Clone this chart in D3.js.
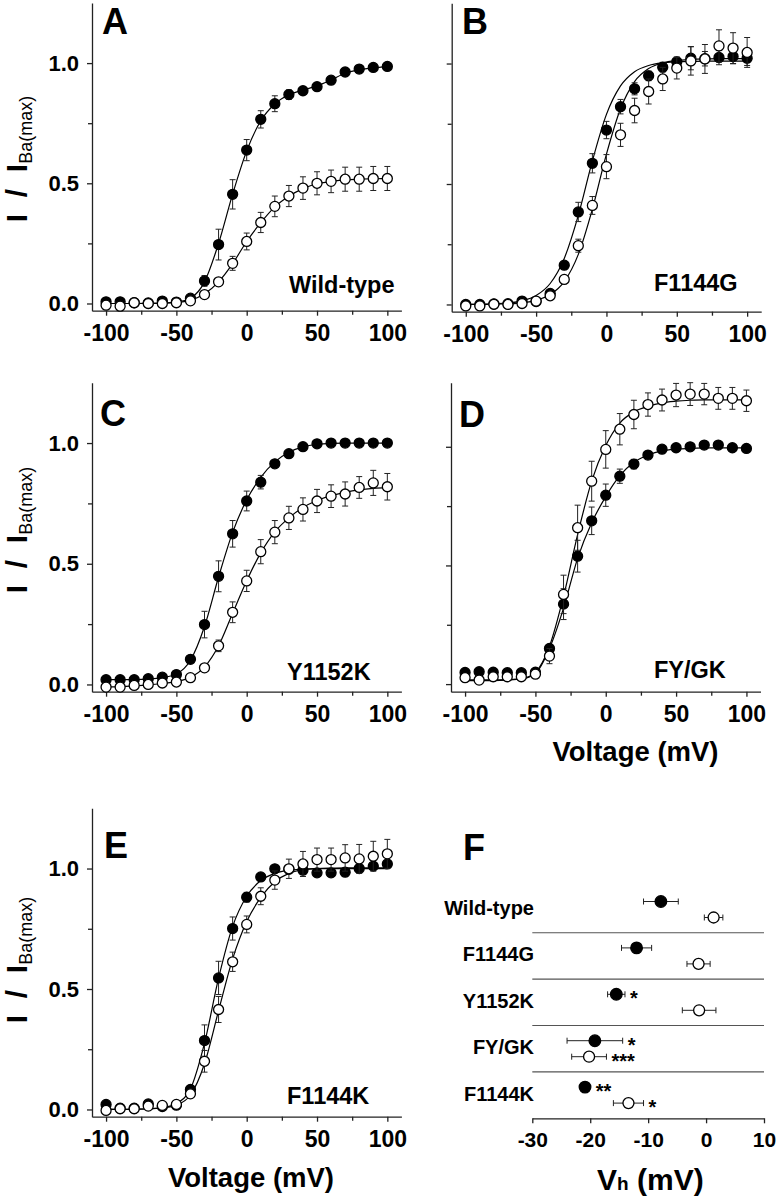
<!DOCTYPE html>
<html>
<head>
  <meta charset="UTF-8">
  <title>Activation curves and Vh</title>
  <script src="https://d3js.org/d3.v7.min.js"></script>
  <style>
    body { margin: 0; background: #fff; }
    svg text { font-family: Arial, "Liberation Sans", sans-serif; font-weight: bold; fill: #000; }
    .axis path, .axis line { stroke: #222; stroke-width: 1.3; }
  </style>
</head>
<body>
  <svg id="fig" width="777" height="1199"></svg>
  <script>
    /* Data */
    const voltages = [-100, -90, -80, -70, -60, -50, -40, -30, -20, -10, 0, 10, 20, 30, 40, 50, 60, 70, 80, 90, 100];
    const voltMajorTicks = [-100, -50, 0, 50, 100];
    const voltMinorTicks = [-75, -25, 25, 75];
    const ratioMajorTicks = [0, 0.5, 1.0];
    const ratioMinorTicks = [0.25, 0.75];

    // A: Wild-type
    const aFilled = [0.007, 0.007, 0.003, 0.002, 0.01, 0.006, 0.022, 0.094, 0.245, 0.454, 0.638, 0.766, 0.831, 0.869, 0.885, 0.902, 0.929, 0.963, 0.975, 0.982, 0.986];
    const aFilledErr = [0.008, 0.008, 0.008, 0.008, 0.008, 0.008, 0.01, 0.022, 0.064, 0.061, 0.044, 0.036, 0.033, 0.02, 0.015, 0.012, 0.012, 0.01, 0.01, 0.01, 0.01];
    const aOpen = [-0.007, -0.011, 0.003, 0.0, 0.0, 0.003, 0.011, 0.037, 0.09, 0.167, 0.258, 0.337, 0.404, 0.447, 0.48, 0.5, 0.508, 0.517, 0.517, 0.52, 0.52];
    const aOpenErr = [0.008, 0.008, 0.008, 0.008, 0.008, 0.008, 0.01, 0.012, 0.015, 0.029, 0.035, 0.042, 0.043, 0.044, 0.047, 0.048, 0.047, 0.05, 0.05, 0.05, 0.05];
    const aFilledFit = [0.0, 0.0, 0.0, 0.001, 0.002, 0.006, 0.022, 0.09, 0.25, 0.455, 0.635, 0.76, 0.83, 0.868, 0.888, 0.905, 0.93, 0.958, 0.972, 0.98, 0.985];
    const aOpenFit = [0.0, 0.0, 0.0, 0.0, 0.001, 0.004, 0.013, 0.04, 0.09, 0.166, 0.258, 0.336, 0.402, 0.446, 0.478, 0.498, 0.507, 0.514, 0.517, 0.519, 0.52];

    // B: F1144G
    const bFilled = [0.0, 0.0, 0.002, 0.003, 0.014, 0.012, 0.046, 0.163, 0.384, 0.586, 0.724, 0.821, 0.895, 0.949, 0.985, 1.007, 1.022, 1.02, 1.025, 1.029, 1.022];
    const bFilledErr = [0.008, 0.008, 0.008, 0.008, 0.008, 0.008, 0.008, 0.015, 0.04, 0.04, 0.036, 0.03, 0.025, 0.02, 0.02, 0.02, 0.048, 0.03, 0.03, 0.03, 0.03];
    const bOpen = [-0.006, -0.006, 0.001, 0.0, 0.004, 0.014, 0.036, 0.104, 0.244, 0.411, 0.572, 0.704, 0.805, 0.884, 0.936, 0.981, 1.011, 1.019, 1.073, 1.064, 1.046];
    const bOpenErr = [0.008, 0.008, 0.008, 0.008, 0.008, 0.008, 0.01, 0.015, 0.027, 0.037, 0.05, 0.048, 0.051, 0.052, 0.048, 0.045, 0.059, 0.06, 0.067, 0.064, 0.062];
    const bFilledFit = [0.0, 0.001, 0.003, 0.006, 0.015, 0.037, 0.087, 0.191, 0.37, 0.596, 0.789, 0.907, 0.966, 0.992, 1.003, 1.007, 1.009, 1.01, 1.01, 1.01, 1.01];
    const bOpenFit = [0.0, 0.0, 0.001, 0.003, 0.007, 0.017, 0.041, 0.095, 0.208, 0.396, 0.624, 0.812, 0.925, 0.979, 1.003, 1.013, 1.017, 1.019, 1.02, 1.02, 1.02];

    // C: Y1152K
    const cFilled = [0.02, 0.02, 0.02, 0.024, 0.03, 0.041, 0.104, 0.248, 0.448, 0.624, 0.76, 0.838, 0.914, 0.956, 0.985, 0.997, 1.0, 1.0, 1.0, 1.0, 1.0];
    const cFilledErr = [0.008, 0.008, 0.008, 0.008, 0.008, 0.008, 0.012, 0.055, 0.064, 0.055, 0.041, 0.028, 0.015, 0.01, 0.008, 0.008, 0.008, 0.008, 0.008, 0.008, 0.008];
    const cOpen = [-0.011, -0.011, -0.004, 0.0, 0.006, 0.01, 0.028, 0.069, 0.16, 0.299, 0.429, 0.55, 0.631, 0.69, 0.725, 0.76, 0.78, 0.789, 0.816, 0.835, 0.819];
    const cOpenErr = [0.008, 0.008, 0.008, 0.008, 0.008, 0.008, 0.01, 0.012, 0.024, 0.043, 0.044, 0.05, 0.048, 0.048, 0.048, 0.048, 0.047, 0.05, 0.045, 0.052, 0.055];
    const cFilledFit = [0.02, 0.02, 0.02, 0.022, 0.028, 0.043, 0.1, 0.24, 0.445, 0.63, 0.765, 0.858, 0.922, 0.962, 0.984, 0.995, 0.999, 1.0, 1.0, 1.0, 1.0];
    const cOpenFit = [-0.01, -0.009, -0.006, -0.002, 0.004, 0.012, 0.03, 0.072, 0.16, 0.295, 0.43, 0.545, 0.632, 0.69, 0.733, 0.762, 0.782, 0.796, 0.806, 0.812, 0.815];

    // D: FY/GK
    const dFilled = [0.049, 0.052, 0.05, 0.048, 0.048, 0.05, 0.15, 0.337, 0.539, 0.688, 0.796, 0.876, 0.927, 0.965, 0.99, 0.996, 1.0, 1.007, 1.007, 0.996, 0.993];
    const dFilledErr = [0.008, 0.008, 0.008, 0.008, 0.008, 0.008, 0.012, 0.065, 0.067, 0.058, 0.047, 0.03, 0.02, 0.012, 0.01, 0.01, 0.01, 0.01, 0.01, 0.01, 0.01];
    const dOpen = [0.027, 0.017, 0.031, 0.031, 0.031, 0.042, 0.118, 0.378, 0.659, 0.855, 0.989, 1.074, 1.136, 1.178, 1.197, 1.218, 1.222, 1.222, 1.204, 1.204, 1.194];
    const dOpenErr = [0.008, 0.008, 0.008, 0.008, 0.008, 0.008, 0.032, 0.081, 0.095, 0.084, 0.079, 0.066, 0.06, 0.049, 0.046, 0.049, 0.048, 0.045, 0.046, 0.046, 0.045];
    const dFilledFit = [0.018, 0.018, 0.018, 0.019, 0.022, 0.045, 0.15, 0.32, 0.53, 0.68, 0.79, 0.878, 0.935, 0.965, 0.983, 0.99, 0.993, 0.995, 0.995, 0.995, 0.995];
    const dOpenFit = [0.015, 0.015, 0.015, 0.017, 0.022, 0.05, 0.16, 0.37, 0.63, 0.855, 1.005, 1.1, 1.147, 1.17, 1.185, 1.192, 1.196, 1.198, 1.198, 1.198, 1.198];

    // E: F1144K
    const eFilled = [0.021, 0.005, 0.005, 0.023, 0.012, 0.018, 0.083, 0.286, 0.546, 0.751, 0.881, 0.965, 0.999, 0.997, 0.993, 0.982, 0.982, 0.985, 1.0, 1.01, 1.019];
    const eFilledErr = [0.008, 0.008, 0.008, 0.008, 0.008, 0.008, 0.012, 0.065, 0.069, 0.048, 0.02, 0.012, 0.01, 0.01, 0.01, 0.01, 0.01, 0.01, 0.01, 0.01, 0.01];
    const eOpen = [-0.004, 0.003, 0.003, 0.014, 0.017, 0.021, 0.065, 0.2, 0.415, 0.613, 0.768, 0.885, 0.952, 0.999, 1.019, 1.037, 1.037, 1.044, 1.04, 1.051, 1.061];
    const eOpenErr = [0.008, 0.008, 0.008, 0.008, 0.008, 0.008, 0.01, 0.045, 0.054, 0.04, 0.035, 0.035, 0.038, 0.04, 0.052, 0.048, 0.048, 0.055, 0.06, 0.062, 0.06];
    const eFilledFit = [0.0, 0.0, 0.001, 0.003, 0.008, 0.025, 0.085, 0.275, 0.545, 0.76, 0.885, 0.95, 0.98, 0.992, 0.997, 1.0, 1.0, 1.0, 1.0, 1.0, 1.0];
    const eOpenFit = [0.0, 0.0, 0.001, 0.002, 0.006, 0.018, 0.06, 0.19, 0.41, 0.625, 0.78, 0.88, 0.945, 0.98, 0.995, 1.0, 1.002, 1.003, 1.003, 1.003, 1.003];

    // F: half-activation voltages (mV)
    const vhCategories = ["Wild-type", "F1144G", "Y1152K", "FY/GK", "F1144K"];
    const vhFilled = [-7.8, -12.0, -15.5, -19.2, -20.9];
    const vhFilledErr = [3.0, 2.6, 1.5, 4.8, 0.7];
    const vhOpen = [1.3, -1.3, -1.2, -20.2, -13.4];
    const vhOpenErr = [1.6, 2.0, 2.9, 3.0, 2.6];
    const vhFilledStars = ["", "", "*", "*", "**"];
    const vhOpenStars = ["", "", "", "***", "*"];
    const vhTicks = [-30, -20, -10, 0, 10];

    // plain hyphen for negative tick labels, like the original
    const hyphenInt = d => String(d);

    /* Layout */
    const svg = d3.select("#fig");

    const panels = [
      { letter: "A", name: "Wild-type", filled: aFilled, filledErr: aFilledErr, open: aOpen, openErr: aOpenErr, filledFit: aFilledFit, openFit: aOpenFit,
        left: 92, right: 401.4, top: 3, bottom: 310.7, yDomain: [-0.03, 1.25], yLabels: true,
        letterX: 102, letterY: 34, nameX: 289, nameY: 293, yTitleY: 159 },
      { letter: "B", name: "F1144G", filled: bFilled, filledErr: bFilledErr, open: bOpen, openErr: bOpenErr, filledFit: bFilledFit, openFit: bOpenFit,
        left: 451.7, right: 761.2, top: 3.3, bottom: 311.7, yDomain: [-0.03, 1.25], yLabels: false,
        letterX: 462, letterY: 34, nameX: 654, nameY: 291 },
      { letter: "C", name: "Y1152K", filled: cFilled, filledErr: cFilledErr, open: cOpen, openErr: cOpenErr, filledFit: cFilledFit, openFit: cOpenFit,
        left: 92, right: 401.4, top: 382.7, bottom: 691.7, yDomain: [-0.03, 1.25], yLabels: true,
        letterX: 100, letterY: 426, nameX: 287, nameY: 680, yTitleY: 530 },
      { letter: "D", name: "FY/GK", filled: dFilled, filledErr: dFilledErr, open: dOpen, openErr: dOpenErr, filledFit: dFilledFit, openFit: dOpenFit,
        left: 451, right: 760.5, top: 382.7, bottom: 691.7, yDomain: [-0.032, 1.27], yLabels: false,
        letterX: 459, letterY: 427, nameX: 654, nameY: 678, xTitleX: 635.5, xTitleY: 761 },
      { letter: "E", name: "F1144K", filled: eFilled, filledErr: eFilledErr, open: eOpen, openErr: eOpenErr, filledFit: eFilledFit, openFit: eOpenFit,
        left: 92, right: 401.4, top: 808.3, bottom: 1116.7, yDomain: [-0.03, 1.25], yLabels: true,
        letterX: 104, letterY: 858, nameX: 287, nameY: 1104, yTitleY: 960, xTitleX: 251, xTitleY: 1187 }
    ];

    function drawPanel(p) {
      const x = d3.scaleLinear().domain([-110, 110]).range([p.left, p.right]);
      const y = d3.scaleLinear().domain(p.yDomain).range([p.bottom, p.top]);
      const g = svg.append("g");

      // x axis (major + minor)
      const xAxis = g.append("g").attr("class", "axis")
        .attr("transform", `translate(0,${p.bottom})`)
        .call(d3.axisBottom(x).tickValues(voltMajorTicks).tickSize(5).tickSizeOuter(0).tickFormat(hyphenInt));
      xAxis.selectAll("text").style("font-size", "23px").attr("y", 14).attr("dy", "0.71em");
      g.append("g").attr("class", "axis")
        .attr("transform", `translate(0,${p.bottom})`)
        .call(d3.axisBottom(x).tickValues(voltMinorTicks).tickSize(4).tickFormat(""))
        .select(".domain").remove();

      // y axis (major + minor)
      const yAxis = g.append("g").attr("class", "axis")
        .attr("transform", `translate(${p.left},0)`)
        .call(d3.axisLeft(y).tickValues(ratioMajorTicks).tickSize(5).tickSizeOuter(0)
          .tickFormat(p.yLabels ? d3.format(".1f") : ""));
      yAxis.selectAll("text").style("font-size", "22px").attr("x", -13);
      g.append("g").attr("class", "axis")
        .attr("transform", `translate(${p.left},0)`)
        .call(d3.axisLeft(y).tickValues(ratioMinorTicks).tickSize(4).tickFormat(""))
        .select(".domain").remove();

      // fitted curves
      const line = d3.line().x(d => x(d[0])).y(d => y(d[1])).curve(d3.curveMonotoneX);
      [p.filledFit, p.openFit].forEach(fit => {
        g.append("path")
          .attr("d", line(d3.zip(voltages, fit)))
          .attr("fill", "none")
          .attr("stroke", "#000")
          .attr("stroke-width", 1.2);
      });

      // error bars then markers, filled series first, open on top
      const series = [
        { vals: p.filled, errs: p.filledErr, fill: "#000" },
        { vals: p.open, errs: p.openErr, fill: "#fff" }
      ];
      series.forEach(s => {
        voltages.forEach((v, i) => {
          const cx = x(v);
          const y1 = y(s.vals[i] - s.errs[i]);
          const y2 = y(s.vals[i] + s.errs[i]);
          g.append("line").attr("x1", cx).attr("x2", cx).attr("y1", y1).attr("y2", y2)
            .attr("stroke", "#222").attr("stroke-width", 1);
          [y1, y2].forEach(yy => {
            g.append("line").attr("x1", cx - 3).attr("x2", cx + 3).attr("y1", yy).attr("y2", yy)
              .attr("stroke", "#222").attr("stroke-width", 1);
          });
        });
        voltages.forEach((v, i) => {
          g.append("circle")
            .attr("cx", x(v))
            .attr("cy", y(s.vals[i]))
            .attr("r", 5)
            .attr("fill", s.fill)
            .attr("stroke", "#000")
            .attr("stroke-width", 1.3);
        });
      });

      // panel letter and construct name
      g.append("text").attr("x", p.letterX).attr("y", p.letterY)
        .style("font-size", "36px").text(p.letter);
      g.append("text").attr("x", p.nameX).attr("y", p.nameY)
        .style("font-size", "23.5px").text(p.name);

      // y title
      if (p.yTitleY) {
        const t = g.append("text")
          .attr("transform", `translate(27,${p.yTitleY}) rotate(-90)`)
          .attr("text-anchor", "middle")
          .style("white-space", "pre");
        t.append("tspan").style("font-size", "30px").text("I  /  I");
        t.append("tspan").attr("dy", 5).style("font-size", "18px").style("font-weight", "normal").text("Ba(max)");
      }
      // x title
      if (p.xTitleX) {
        g.append("text").attr("x", p.xTitleX).attr("y", p.xTitleY)
          .attr("text-anchor", "middle")
          .style("font-size", "27.5px").text("Voltage (mV)");
      }
    }

    panels.forEach(drawPanel);

    /* Panel F: Vh summary */
    const fx = d3.scaleLinear().domain([-30, 10]).range([532.3, 764]);
    const fy = d3.scaleBand().domain(vhCategories).range([886.3, 1118.3]);
    const fg = svg.append("g");

    fg.append("text").attr("x", 463).attr("y", 860).style("font-size", "36px").text("F");

    const fAxis = fg.append("g").attr("class", "axis")
      .attr("transform", `translate(0,${fy.range()[1]})`)
      .call(d3.axisBottom(fx).tickValues(vhTicks).tickSize(5).tickSizeOuter(0).tickFormat(hyphenInt));
    fAxis.selectAll("text").style("font-size", "21px").attr("y", 14).attr("dy", "0.71em");

    // row separators
    vhCategories.slice(0, -1).forEach(c => {
      const yy = fy(c) + fy.bandwidth();
      fg.append("line").attr("x1", fx.range()[0]).attr("x2", fx.range()[1])
        .attr("y1", yy).attr("y2", yy)
        .attr("stroke", "#555").attr("stroke-width", 1.1);
    });

    vhCategories.forEach((c, i) => {
      const mid = fy(c) + fy.bandwidth() / 2;
      fg.append("text").attr("x", 534).attr("y", mid + 5.5)
        .attr("text-anchor", "end").style("font-size", "20px").text(c);

      const rows = [
        { v: vhFilled[i], e: vhFilledErr[i], star: vhFilledStars[i], cy: mid - 8, fill: "#000", r: 5.8 },
        { v: vhOpen[i], e: vhOpenErr[i], star: vhOpenStars[i], cy: mid + 8, fill: "#fff", r: 5.5 }
      ];
      rows.forEach(r => {
        const x1 = fx(r.v - r.e), x2 = fx(r.v + r.e);
        fg.append("line").attr("x1", x1).attr("x2", x2).attr("y1", r.cy).attr("y2", r.cy)
          .attr("stroke", "#222").attr("stroke-width", 1);
        [x1, x2].forEach(xx => {
          fg.append("line").attr("x1", xx).attr("x2", xx).attr("y1", r.cy - 3).attr("y2", r.cy + 3)
            .attr("stroke", "#222").attr("stroke-width", 1);
        });
        fg.append("circle").attr("cx", fx(r.v)).attr("cy", r.cy).attr("r", r.r)
          .attr("fill", r.fill).attr("stroke", "#000").attr("stroke-width", 1.3);
        if (r.star) {
          fg.append("text")
            .attr("x", Math.max(x2, fx(r.v) + r.r) + 5)
            .attr("y", r.cy + 11)
            .style("font-size", "20px")
            .text(r.star);
        }
      });
    });

    // Vh axis title
    const vt = fg.append("text").attr("x", 597).attr("y", 1190).style("white-space", "pre");
    vt.append("tspan").style("font-size", "30px").text("V");
    vt.append("tspan").style("font-size", "19px").text("h");
    vt.append("tspan").style("font-size", "30px").text(" (mV)");
  </script>
</body>
</html>
